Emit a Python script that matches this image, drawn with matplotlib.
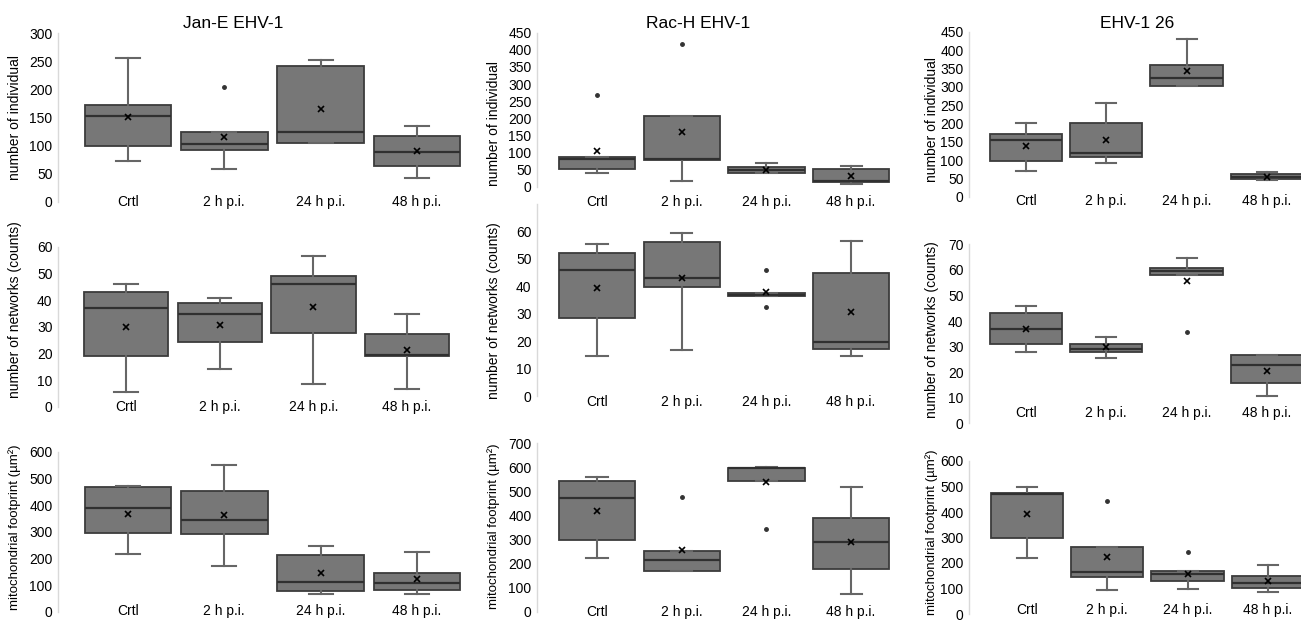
import matplotlib
matplotlib.use("Agg")
import matplotlib.pyplot as plt
from matplotlib import transforms

plt.rcParams["font.family"] = ["Liberation Sans Narrow", "Liberation Sans", "DejaVu Sans"]

categorias = ["Crtl", "2 h p.i.", "24 h p.i.", "48 h p.i."]
cepas = ["Jan-E EHV-1", "Rac-H EHV-1", "EHV-1 26"]
rotulos_y = ["number of individual", "number of networks (counts)",
             "mitochondrial footprint (µm²)"]

# cada caixa: (bigode inferior, Q1, mediana, Q3, bigode superior)
jan_individual = [(73, 99, 153, 172, 256), (58, 92, 103, 124, 124),
                  (104, 105, 124, 242, 252), (43, 64, 89, 117, 135)]
jan_individual_media = [150, 116, 165, 90]
jan_individual_out = [[], [204], [], []]

rac_individual = [(39, 51, 80, 88, 88), (17, 78, 80, 207, 207),
                  (41, 41, 49, 58, 68), (8, 15, 17, 51, 61)]
rac_individual_media = [104, 161, 50, 32]
rac_individual_out = [[268], [417], [], []]

e26_individual = [(71, 97, 155, 171, 200), (91, 109, 119, 202, 255),
                  (302, 302, 323, 360, 430), (46, 48, 55, 62, 66)]
e26_individual_media = [138, 155, 343, 55]
e26_individual_out = [[], [], [], []]

jan_redes = [(5.4, 19.1, 36.9, 42.9, 46), (14, 24.4, 34.8, 38.8, 40.9),
             (8.5, 27.5, 46, 49.1, 56.5), (6.6, 19.1, 19.3, 27.3, 34.8)]
jan_redes_media = [30, 30.6, 37.5, 21.3]
jan_redes_out = [[], [], [], []]

rac_redes = [(14.6, 28.4, 46.1, 52.1, 55.4), (16.8, 39.9, 43, 56.3, 59.6),
             (36.6, 36.6, 37, 37.5, 37.5), (14.6, 17, 19.8, 45, 56.6)]
rac_redes_media = [39.4, 43.2, 38.1, 30.5]
rac_redes_out = [[], [], [32.4, 46], []]

e26_redes = [(27.7, 30.9, 36.8, 43, 45.8), (25.6, 27.7, 29, 30.9, 33.6),
             (57.9, 57.9, 59.6, 60.9, 64.8), (10.7, 15.6, 22.8, 26.7, 26.7)]
e26_redes_media = [36.8, 29.9, 55.7, 20.5]
e26_redes_out = [[], [], [35.8], []]

jan_area = [(216, 294, 390, 469, 471), (173, 291, 344, 454, 550),
            (66, 79, 113, 213, 246), (65, 81, 106, 144, 225)]
jan_area_media = [366, 363, 144, 123]
jan_area_out = [[], [], [], []]

rac_area = [(224, 298, 471, 543, 561), (169, 169, 215, 252, 252),
            (545, 545, 596, 599, 603), (72, 178, 288, 388, 520)]
rac_area_media = [420, 256, 540, 288]
rac_area_out = [[], [475], [342], []]

e26_area = [(221, 297, 470, 473, 499), (94, 144, 163, 264, 264),
            (97, 131, 156, 169, 169), (87, 101, 120, 150, 192)]
e26_area_media = [391, 222, 156, 129]
e26_area_out = [[], [444], [242], []]

paineis = [
    [(jan_individual, jan_individual_media, jan_individual_out),
     (rac_individual, rac_individual_media, rac_individual_out),
     (e26_individual, e26_individual_media, e26_individual_out)],
    [(jan_redes, jan_redes_media, jan_redes_out),
     (rac_redes, rac_redes_media, rac_redes_out),
     (e26_redes, e26_redes_media, e26_redes_out)],
    [(jan_area, jan_area_media, jan_area_out),
     (rac_area, rac_area_media, rac_area_out),
     (e26_area, e26_area_media, e26_area_out)],
]

# escala do eixo y: (limite superior, passo, ultimo rotulo)
escalas = [[(300, 50, 300), (450, 50, 450), (450, 50, 450)],
           [(60, 10, 60), (70, 10, 60), (70, 10, 70)],
           [(600, 100, 600), (700, 100, 700), (600, 100, 600)]]

# layout em pixels: (eixo x, borda direita, centro da 1a caixa, espacamento,
#                    y do zero, y do topo, y dos rotulos de categoria)
layout = [
    [(58, 470, 128, 96.3, 201.7, 33.3, 201.7),
     (537, 900, 597, 84.7, 186.7, 32.7, 201.7),
     (969, 1301, 1026, 80.3, 196.7, 31.7, 201)],
    [(58, 470, 126, 93.7, 406.7, 246.7, 406.7),
     (537, 900, 597, 84.7, 396, 204.2, 401.7),
     (969, 1301, 1026, 80.3, 423.3, 244.3, 413)],
    [(58, 470, 128, 96.3, 611.7, 451.7, 611),
     (537, 900, 597, 84.7, 611.7, 443.3, 611.7),
     (969, 1301, 1027, 80.3, 614, 461, 610)],
]
pos_rotulo_y = [[(15, 117), (494, 123), (932, 120)],
                [(15, 310), (494, 311), (932, 330)],
                [(15, 527), (494, 526), (932, 532)]]
tam_rotulo_y = [10, 10, 9.5]
pos_titulo = [(233, 23), (698, 23), (1137, 23)]

W, H = 1301, 622
fig = plt.figure(figsize=(W / 100, H / 100), dpi=100)

for i in range(3):
    for j in range(3):
        caixas, medias, outliers = paineis[i][j]
        esquerda, direita, c1, passo, y0, ytopo, ycat = layout[i][j]
        ymax, dy, ultimo = escalas[i][j]

        ax = fig.add_axes([esquerda / W, 1 - y0 / H, (direita - esquerda) / W,
                           (y0 - ytopo) / H])
        stats = []
        for (lo, q1, med, q3, hi), m, fl in zip(caixas, medias, outliers):
            stats.append(dict(whislo=lo, q1=q1, med=med, q3=q3, whishi=hi,
                              mean=m, fliers=fl))
        ax.bxp(stats, positions=[1, 2, 3, 4], widths=0.9, capwidths=0.25,
               patch_artist=True, showmeans=True, manage_ticks=False,
               boxprops=dict(facecolor="#777777", edgecolor="#3c3c3c", linewidth=1.3),
               whiskerprops=dict(color="#666666", linewidth=1.5),
               capprops=dict(color="#666666", linewidth=1.5),
               medianprops=dict(color="#303030", linewidth=1.6),
               meanprops=dict(marker="x", markeredgecolor="black", markersize=4.5,
                              markeredgewidth=1.2),
               flierprops=dict(marker="o", markerfacecolor="#333333",
                               markeredgecolor="#333333", markersize=2.5))

        ax.set_xlim(1 + (esquerda - c1) / passo, 1 + (direita - c1) / passo)
        ax.set_ylim(0, ymax)
        ax.set_yticks(range(0, ultimo + 1, dy))
        ax.tick_params(axis="y", length=0, pad=4, labelsize=10)
        ax.set_xticks([])
        for lado in ["top", "right", "bottom"]:
            ax.spines[lado].set_visible(False)
        ax.spines["left"].set_color("#d9d9d9")
        ax.spines["left"].set_linewidth(1.0)
        ax.patch.set_alpha(0)

        trans = transforms.blended_transform_factory(ax.transData, fig.transFigure)
        for k, cat in enumerate(categorias):
            ax.text(k + 1, 1 - ycat / H, cat, transform=trans, ha="center",
                    va="center", fontsize=10, clip_on=False)

        xl, yl = pos_rotulo_y[i][j]
        fig.text(xl / W, 1 - yl / H, rotulos_y[i], rotation=90, ha="center",
                 va="center", fontsize=tam_rotulo_y[i])

for (xt, yt), cepa in zip(pos_titulo, cepas):
    fig.text(xt / W, 1 - yt / H, cepa, ha="center", va="center", fontsize=12.5,
             family=["Liberation Sans", "DejaVu Sans"])

fig.savefig("out.png", dpi=100)
